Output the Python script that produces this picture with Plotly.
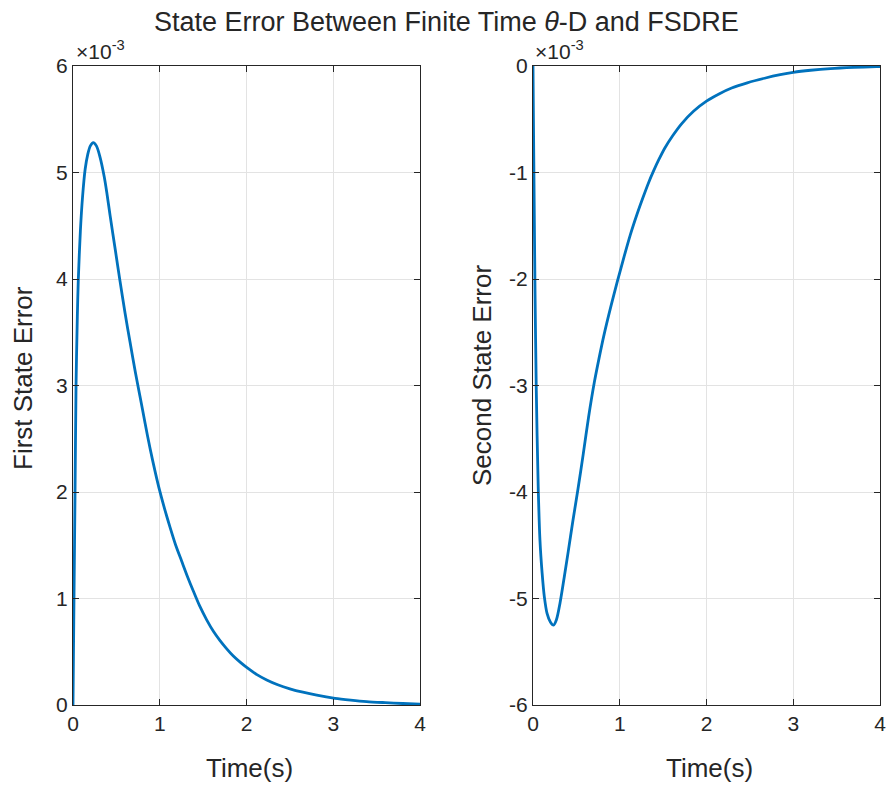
import plotly.graph_objects as go

# Data (values in units of 1e-3)
t_first = [0, 0.005, 0.012, 0.023, 0.035, 0.05, 0.061, 0.085, 0.11, 0.14, 0.17, 0.2, 0.234,
           0.27, 0.31, 0.36, 0.39, 0.427, 0.49, 0.542, 0.6, 0.657, 0.72, 0.772, 0.83, 0.888,
           0.95, 1.0, 1.06, 1.118, 1.18, 1.253, 1.32, 1.387, 1.46, 1.541, 1.62, 1.695, 1.77,
           1.848, 1.93, 2.006, 2.12, 2.233, 2.36, 2.5, 2.65, 2.81, 3.02, 3.2, 3.385, 3.6, 3.8, 4.0]
e_first = [0, 0.45, 1.05, 1.96, 3.0, 3.65, 3.99, 4.45, 4.77, 5.03, 5.17, 5.25, 5.28,
           5.25, 5.15, 4.96, 4.81, 4.60, 4.26, 3.98, 3.68, 3.41, 3.12, 2.90, 2.65, 2.41,
           2.18, 2.01, 1.83, 1.67, 1.51, 1.35, 1.205, 1.07, 0.93, 0.80, 0.69, 0.605, 0.53,
           0.46, 0.40, 0.35, 0.285, 0.235, 0.19, 0.152, 0.12, 0.092, 0.063, 0.046, 0.032, 0.022, 0.014, 0.009]

t_second = [0, 0.005, 0.011, 0.023, 0.038, 0.06, 0.08, 0.105, 0.13, 0.162, 0.2, 0.237, 0.27,
            0.312, 0.36, 0.406, 0.46, 0.519, 0.58, 0.64, 0.707, 0.76, 0.82, 0.9, 0.97, 1.05,
            1.12, 1.2, 1.27, 1.33, 1.39, 1.45, 1.52, 1.61, 1.71, 1.85, 2.0, 2.15, 2.29, 2.47,
            2.67, 2.85, 3.0, 3.2, 3.43, 3.7, 3.96, 4.0]
e_second = [0, -0.5, -1.04, -2.1, -3.05, -3.95, -4.45, -4.76, -4.98, -5.14, -5.22, -5.25, -5.2,
            -5.04, -4.8, -4.56, -4.27, -3.97, -3.64, -3.3, -2.97, -2.75, -2.52, -2.25, -2.03, -1.79,
            -1.59, -1.39, -1.23, -1.10, -0.985, -0.88, -0.77, -0.655, -0.545, -0.425, -0.33, -0.26, -0.207, -0.158,
            -0.115, -0.082, -0.06, -0.04, -0.024, -0.013, -0.006, -0.005]

x_ticks = [0, 1, 2, 3, 4]
y1_ticks = [0, 1, 2, 3, 4, 5, 6]
y2_ticks = [-6, -5, -4, -3, -2, -1, 0]
y2_labels = ['-6', '-5', '-4', '-3', '-2', '-1', '0']

W, H = 891, 786
LINE = '#0072BD'
AX = '#262626'
FONT = 'Liberation Sans, Arial, Helvetica, sans-serif'

fig = go.Figure()
fig.add_trace(go.Scatter(x=t_first, y=e_first, mode='lines',
                         line=dict(color=LINE, width=2.8, shape='spline', smoothing=0.8),
                         xaxis='x', yaxis='y', showlegend=False))
fig.add_trace(go.Scatter(x=t_second, y=e_second, mode='lines',
                         line=dict(color=LINE, width=2.8, shape='spline', smoothing=0.8),
                         xaxis='x2', yaxis='y2', showlegend=False))

def px(x):
    return x / W

def py(y):
    return 1 - y / H

ax_common = dict(showline=True, linecolor=AX, linewidth=1, mirror='ticks', ticks='inside',
                 ticklen=6, tickcolor=AX, showgrid=True, gridcolor='#e3e3e3', gridwidth=1,
                 zeroline=False, automargin=False, tickfont=dict(family=FONT, size=21, color=AX))

fig.update_layout(
    width=W, height=H, margin=dict(l=0, r=0, t=0, b=0, pad=0),
    paper_bgcolor='white', plot_bgcolor='white',
    xaxis=dict(domain=[px(73), px(420)], range=[0, 4], tickvals=x_ticks, anchor='y', **ax_common),
    yaxis=dict(domain=[py(705), py(66)], range=[0, 6], tickvals=y1_ticks, anchor='x', **ax_common),
    xaxis2=dict(domain=[px(533), px(880)], range=[0, 4], tickvals=x_ticks, anchor='y2', **ax_common),
    yaxis2=dict(domain=[py(705), py(66)], range=[-6, 0], tickvals=y2_ticks, ticktext=y2_labels,
                anchor='x2', **ax_common),
)

ann = []
ann.append(dict(text='State Error Between Finite Time <i>θ</i>-D and FSDRE', x=px(446), y=py(22),
                xref='paper', yref='paper', xanchor='center', yanchor='middle', showarrow=False,
                font=dict(family=FONT, size=27, color=AX)))
for xc in (249, 709):
    ann.append(dict(text='Time(s)', x=px(xc), y=py(768), xref='paper', yref='paper',
                    xanchor='center', yanchor='middle', showarrow=False,
                    font=dict(family=FONT, size=26, color=AX)))
ann.append(dict(text='First State Error', x=px(23), y=py(378), xref='paper', yref='paper',
                xanchor='center', yanchor='middle', showarrow=False, textangle=-90,
                font=dict(family=FONT, size=26, color=AX)))
ann.append(dict(text='Second State Error', x=px(482), y=py(376), xref='paper', yref='paper',
                xanchor='center', yanchor='middle', showarrow=False, textangle=-90,
                font=dict(family=FONT, size=26, color=AX)))
for xl in (74, 533):
    ann.append(dict(text='×10<sup>-3</sup>', x=px(xl), y=py(65), xref='paper', yref='paper',
                    xanchor='left', yanchor='bottom', showarrow=False,
                    font=dict(family=FONT, size=21, color=AX)))
fig.update_layout(annotations=ann)

fig.write_html('out.html')
